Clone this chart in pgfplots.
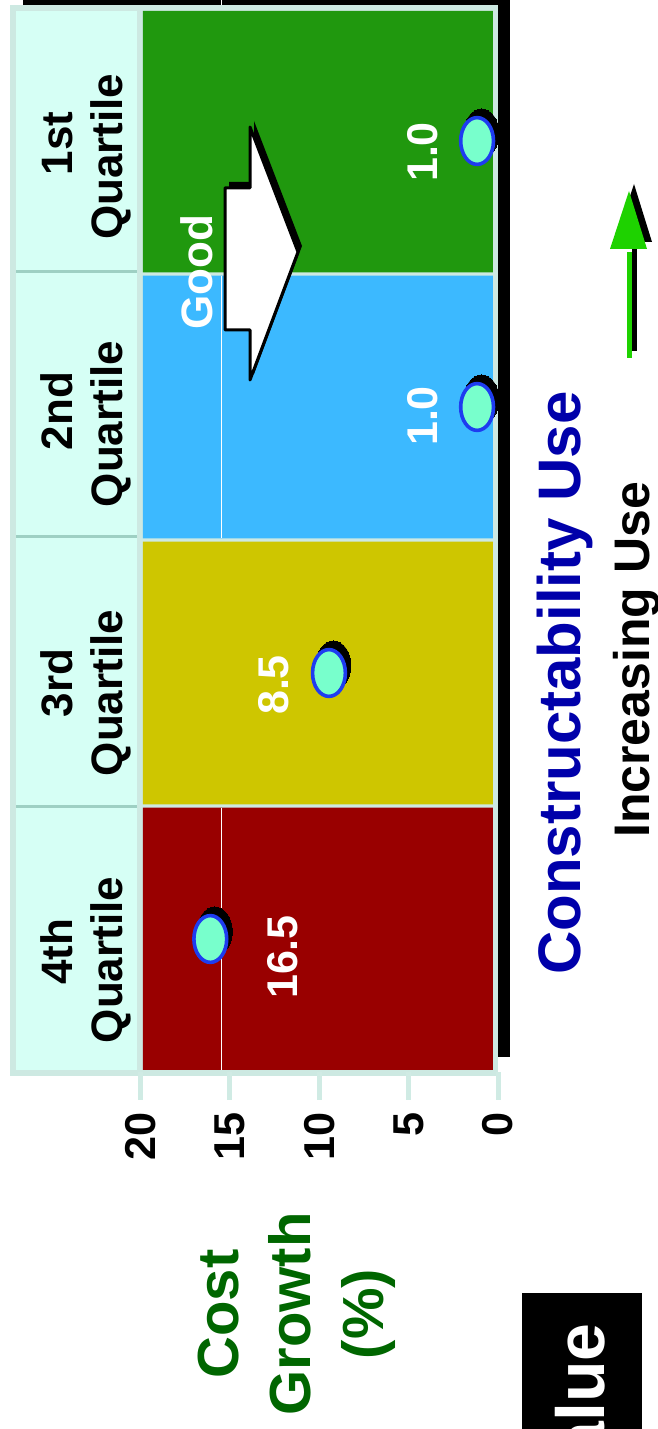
\documentclass[border=0pt]{standalone}
\usepackage{fontspec}
\setmainfont{Liberation Sans}
\usepackage{pgfplots}
\pgfplotsset{compat=1.18}
\definecolor{qgreen}{RGB}{32,152,14}
\definecolor{qblue}{RGB}{60,185,255}
\definecolor{qyellow}{RGB}{206,198,0}
\definecolor{qred}{RGB}{153,0,0}
\definecolor{header}{RGB}{214,255,245}
\definecolor{framec}{RGB}{205,233,226}
\definecolor{hsep}{RGB}{158,208,195}
\definecolor{tickc}{RGB}{208,235,228}
\definecolor{cgreen}{RGB}{0,102,0}
\definecolor{cblue}{RGB}{0,0,170}
\definecolor{ptfill}{RGB}{120,255,204}
\definecolor{ptblue}{RGB}{30,60,240}
\definecolor{garrow}{RGB}{30,210,0}
\newcommand\fs[2]{\fontsize{#1}{#2}\selectfont\bfseries}
\begin{document}
\begin{tikzpicture}
\useasboundingbox (0,0) rectangle (329pt,714.5pt);
\begin{scope}[shift={(0pt,714.5pt)},x=0.5pt,y=-0.5pt]
 \fill[black] (23,0) rectangle (510,1057);
 \draw[white,line width=0.4pt] (221,0)--(221,5);
 \fill[framec] (10,5) rectangle (498,1076);
 \fill[hsep] (16,11) rectangle (137,1070);
 \fill[header] (16,11) rectangle (137,270.5);
 \fill[header] (16,273.5) rectangle (137,535.5);
 \fill[header] (16,538.5) rectangle (137,805.5);
 \fill[header] (16,808.5) rectangle (137,1070);
\end{scope}
\begin{axis}[at={(5pt,178.5pt)}, anchor=south west,
  width=244pt, height=532pt, scale only axis,
  xmin=0, xmax=27.31, x dir=reverse, ymin=0, ymax=4,
  axis line style={draw=none},
  xtick={0,5,10,15,20}, ytick=\empty,
  xtick pos=left, tick align=outside, major tick length=14pt,
  tick style={draw=tickc, line width=2.5pt},
  clip=false,
  /pgf/number format/assume math mode=true,
  xticklabel shift=6pt,
  xticklabel style={rotate=90, anchor=east, inner sep=0pt, font=\fs{21.6}{24}}]
 \addplot[draw=none, fill=qgreen] coordinates {(0.28,3.006) (19.87,3.006) (19.87,3.989) (0.28,3.989) (0.28,3.006)};
 \addplot[draw=none, fill=qblue] coordinates {(0.28,2.006) (19.87,2.006) (19.87,2.994) (0.28,2.994) (0.28,2.006)};
 \addplot[draw=none, fill=qyellow] coordinates {(0.28,1.006) (19.87,1.006) (19.87,1.994) (0.28,1.994) (0.28,1.006)};
 \addplot[draw=none, fill=qred] coordinates {(0.28,0.008) (19.87,0.008) (19.87,0.994) (0.28,0.994) (0.28,0.008)};
 \addplot[white, line width=0.4pt] coordinates {(15.5,2.006) (15.5,2.994)};
 \addplot[white, line width=0.4pt] coordinates {(15.5,0.008) (15.5,0.994)};
 \addplot[only marks, mark=*, mark size=10pt, mark options={xshift=2.2pt,yshift=3.8pt,xscale=0.88,yscale=1.22,fill=black,draw=black,line width=0pt}] coordinates {(16.1,0.5) (9.46,1.5) (1.17,2.5) (1.17,3.5)};
 \addplot[only marks, mark=*, mark size=10pt, mark options={xscale=0.82,yscale=1.17,fill=ptfill,draw=ptblue,line width=1.8pt}] coordinates {(16.1,0.5) (9.46,1.5) (1.17,2.5) (1.17,3.5)};
\end{axis}
\begin{scope}[shift={(0pt,714.5pt)},x=0.5pt,y=-0.5pt]
 \begin{scope}[every node/.style={rotate=90, anchor=base, inner sep=0pt, font=\fs{22}{25}}]
 \node at (72,143.5) {1st};  \node at (122.5,156.7) {Quartile};
 \node at (72,411) {2nd};    \node at (122.5,424) {Quartile};
 \node at (72,683) {3rd};    \node at (122.5,693) {Quartile};
 \node at (72,952) {4th};    \node at (122.5,960) {Quartile};
 \end{scope}
 \begin{scope}[every node/.style={rotate=90, anchor=center, inner sep=0pt, text=white, font=\fs{21.5}{24}}]
 \node at (423,152) {1.0};
 \node at (423,416) {1.0};
 \node at (274,685) {8.5};
 \node at (283,957) {16.5};
 \end{scope}
 \fill[black] (229,182) -- (254,182) -- (254,121) -- (302,246) -- (254,374) -- (254,324) -- (229,324) -- cycle;
 \filldraw[fill=white, draw=black, line width=1.5pt, line join=round] (225,188) -- (250,188) -- (250,127) -- (298,252) -- (250,380) -- (250,330) -- (225,330) -- cycle;
 \node[rotate=90, anchor=base, inner sep=0pt, text=white, font=\fs{22}{25}] at (212,272) {Good};
 \begin{scope}[every node/.style={rotate=90, anchor=base, inner sep=0pt, text=cgreen, font=\fs{29}{36}}]
 \node at (238.5,1314) {Cost};
 \node at (310.5,1314) {Growth};
 \node at (383,1314) {(\%)};
 \end{scope}
 \node[rotate=90, anchor=base, inner sep=0pt, text=cblue, font=\fs{30}{36}] at (580,683) {Constructability Use};
 \node[rotate=90, anchor=base, inner sep=0pt, text=black, font=\fs{25}{30}] at (649,660) {Increasing Use};
 \fill[black] (615,242) -- (652,242) -- (634,184) -- cycle;
 \fill[black] (632,245) rectangle (637,351);
 \fill[garrow] (610,249) -- (647,249) -- (629,191) -- cycle;
 \fill[garrow] (627,252) rectangle (632,358);
 \begin{pgfinterruptboundingbox}
 \begin{scope}
 \clip (522,1293) rectangle (642,1429);
 \fill[black] (522,1293) rectangle (642,1429);
 \node[rotate=90, anchor=base east, inner sep=0pt, text=white, font=\fs{34}{40}] at (604,1323) {Value};
 \end{scope}
 \end{pgfinterruptboundingbox}
\end{scope}
\end{tikzpicture}
\end{document}
